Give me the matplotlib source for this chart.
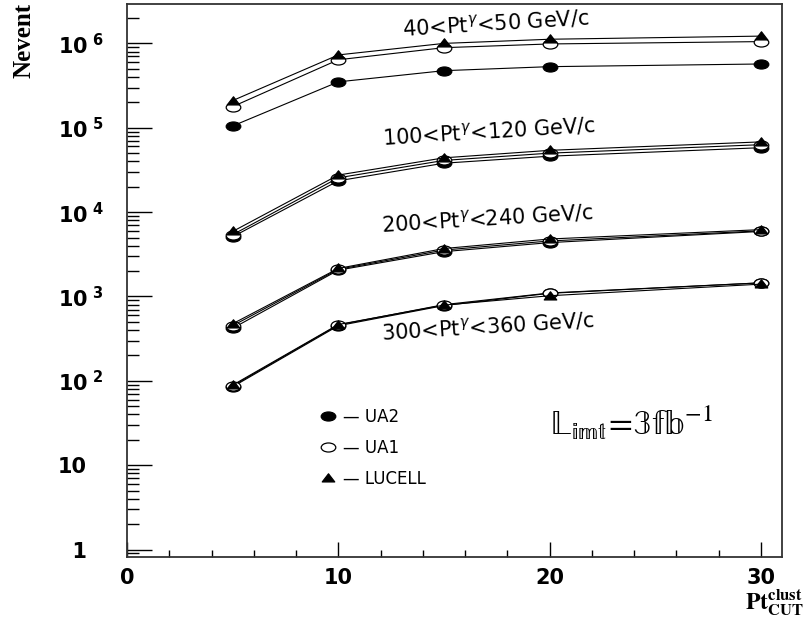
import matplotlib
matplotlib.use("Agg")
import matplotlib.pyplot as plt
from matplotlib.path import Path
from matplotlib.transforms import Affine2D
from matplotlib.lines import Line2D
from matplotlib.ticker import LogLocator, MultipleLocator, NullFormatter

# Pt cut values (GeV/c)
pt_cut = [5, 10, 15, 20, 30]

# number of events, 40 < Pt < 50 GeV/c
ua2_40 = [1.05e5, 3.5e5, 4.75e5, 5.3e5, 5.7e5]
ua1_40 = [1.78e5, 6.4e5, 8.9e5, 9.85e5, 1.05e6]
lucell_40 = [2.1e5, 7.3e5, 1.0e6, 1.12e6, 1.22e6]

# 100 < Pt < 120 GeV/c
ua2_100 = [5.1e3, 2.35e4, 3.8e4, 4.6e4, 5.8e4]
ua1_100 = [5.4e3, 2.55e4, 4.1e4, 5.0e4, 6.3e4]
lucell_100 = [5.9e3, 2.75e4, 4.4e4, 5.4e4, 6.8e4]

# 200 < Pt < 240 GeV/c
ua2_200 = [420, 2.05e3, 3.4e3, 4.35e3, 5.9e3]
ua1_200 = [450, 2.1e3, 3.55e3, 4.55e3, 6.0e3]
lucell_200 = [475, 2.15e3, 3.7e3, 4.8e3, 6.2e3]

# 300 < Pt < 360 GeV/c
ua2_300 = [85, 450, 780, 1.09e3, 1.45e3]
ua1_300 = [87, 460, 800, 1.1e3, 1.45e3]
lucell_300 = [89, 465, 790, 1.02e3, 1.4e3]

range_labels = ["40<Pt$^{\\gamma}$<50 GeV/c", "100<Pt$^{\\gamma}$<120 GeV/c",
                "200<Pt$^{\\gamma}$<240 GeV/c", "300<Pt$^{\\gamma}$<360 GeV/c"]
algos = ["UA2", "UA1", "LUCELL"]

y_ticks = [1, 10, 1e2, 1e3, 1e4, 1e5, 1e6]
y_tick_labels = ["\u20071", "10"] + ["$\\mathbf{10}^{\\ \\mathbf{%d}}$" % n for n in range(2, 7)]

# flattened markers like the original
ellipse = Path.unit_circle().transformed(Affine2D().scale(1.0, 0.62))
triangle = Path([(-1, -0.55), (1, -0.55), (0, 0.75), (-1, -0.55)],
                [Path.MOVETO, Path.LINETO, Path.LINETO, Path.CLOSEPOLY])
styles = {
    "UA2": dict(marker=ellipse, markerfacecolor="black", markersize=10.5),
    "UA1": dict(marker=ellipse, markerfacecolor="white", markersize=10.5),
    "LUCELL": dict(marker=triangle, markerfacecolor="black", markersize=9),
}

fig = plt.figure(figsize=(8.05, 6.27), dpi=100)
ax = fig.add_axes([0.1578, 0.1116, 0.8137, 0.882])

groups = [(ua2_40, ua1_40, lucell_40), (ua2_100, ua1_100, lucell_100),
          (ua2_200, ua1_200, lucell_200), (ua2_300, ua1_300, lucell_300)]
for group in groups:
    for name, vals in zip(algos, group):
        ax.plot(pt_cut, vals, color="black", lw=0.8, markeredgecolor="black",
                markeredgewidth=0.9, **styles[name])

ax.set_yscale("log")
ax.set_xlim(0, 31)
ax.set_ylim(0.815, 2.93e6)

ax.xaxis.set_major_locator(MultipleLocator(10))
ax.xaxis.set_minor_locator(MultipleLocator(2))
ax.set_yticks(y_ticks, y_tick_labels)
ax.yaxis.set_minor_locator(LogLocator(base=10, subs=range(2, 10), numticks=20))
ax.yaxis.set_minor_formatter(NullFormatter())

ax.tick_params(axis="y", which="major", direction="in", length=18, width=1.0,
               pad=50, labelsize=15)
ax.tick_params(axis="y", which="minor", direction="in", length=8.5, width=1.0)
ax.tick_params(axis="x", which="major", direction="in", length=10.5, width=1.0,
               pad=8, labelsize=15)
ax.tick_params(axis="x", which="minor", direction="in", length=5, width=1.0)
ax.tick_params(top=False, right=False, which="both")
for lab in ax.get_yticklabels() + ax.get_xticklabels():
    lab.set_fontweight("bold")
for lab in ax.get_yticklabels():
    lab.set_horizontalalignment("left")

for sp in ax.spines.values():
    sp.set_linewidth(1.3)
    sp.set_color("#333333")

# range annotations
text_pos = [(0.421, 0.942), (0.391, 0.745), (0.389, 0.588), (0.389, 0.393)]
for (tx, ty), lab in zip(text_pos, range_labels):
    ax.text(tx, ty, lab, transform=ax.transAxes, fontsize=15, color="black",
            rotation=3.5, rotation_mode="anchor", ha="left", va="baseline")

# legend
handles = [Line2D([], [], ls="none", markeredgecolor="black", markeredgewidth=0.9,
                  **styles[n]) for n in algos]
ax.legend(handles, ["\u2014 " + n for n in algos], loc="upper left",
          bbox_to_anchor=(0.282, 0.285), frameon=False, fontsize=12,
          handlelength=1.0, handletextpad=0.4, labelspacing=0.78, borderpad=0)

ax.text(0.646, 0.221,
        r"$\mathrm{\mathbb{L}_{\mathbb{imt}}\!=\!\mathbb{3fb}^{-1}}$",
        transform=ax.transAxes, fontsize=25, math_fontfamily="stix",
        ha="left", va="baseline")

fig.text(24 / 805, 1 - 3 / 627, "Nevent", rotation=90, ha="center", va="top",
         fontsize=18, fontweight="bold", family="Liberation Serif")
fig.text(804 / 805, 1 - 609 / 627,
         r"$\mathbf{Pt}^{\mathbf{clust}}_{\mathbf{CUT}}$",
         ha="right", va="baseline", fontsize=17, math_fontfamily="stix")

fig.savefig("out.png", dpi=100)
